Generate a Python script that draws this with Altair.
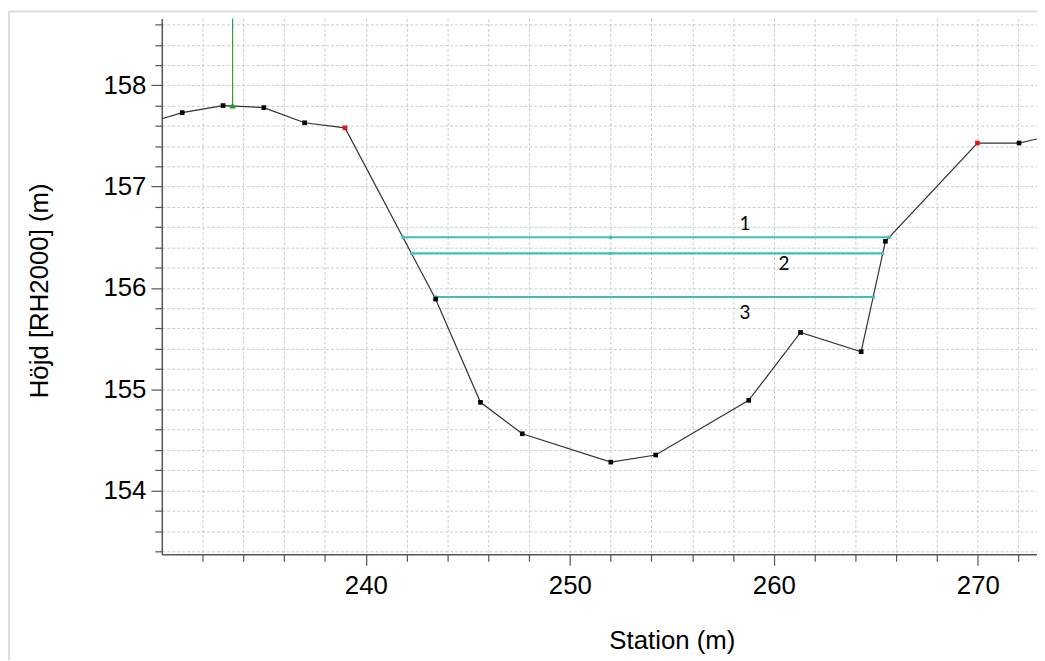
import altair as alt
import pandas as pd

# Terrain profile (station m, elevation m)
stations = [230.0, 231.0, 233.0, 235.0, 237.0, 238.98, 243.42, 245.62, 247.67, 252.01,
            254.21, 258.77, 261.31, 264.28, 265.47, 269.98, 272.02, 272.9]
elevations = [157.67, 157.73, 157.80, 157.78, 157.63, 157.58, 155.89, 154.87, 154.56, 154.28,
              154.35, 154.89, 155.56, 155.37, 156.46, 157.43, 157.43, 157.47]
marker_kind = ["none", "black", "black", "black", "black", "red", "black", "black", "black", "black",
               "black", "black", "black", "black", "black", "red", "black", "none"]

# Green marker
green_station = [233.47]
green_elev = [157.80]

# Water levels
level_names = ["1", "2", "3"]
level_elev = [156.50, 156.34, 155.91]
level_left = [241.82, 242.26, 243.42]
level_right = [265.66, 265.33, 264.88]
level_mid = [252.0, 252.0, None]
label_x = [258.59, 260.5, 258.59]
label_y = [156.63, 156.24, 155.75]

x_domain = [230.0, 272.9]
y_domain = [153.37, 158.66]
x_ticks = [float(v) for v in range(232, 273, 2)]
y_ticks = [round(153.4 + 0.2 * i, 1) for i in range(27)]

terrain = pd.DataFrame({"station": stations, "elev": elevations, "kind": marker_kind,
                        "order": list(range(len(stations)))})
pts = terrain[terrain["kind"] != "none"]

levels = pd.DataFrame({"name": level_names, "elev": level_elev,
                       "left": level_left, "right": level_right,
                       "lx": label_x, "ly": label_y})
lvl_pts = []
for n, e, l, r, m in zip(level_names, level_elev, level_left, level_right, level_mid):
    lvl_pts.append({"station": l, "elev": e})
    lvl_pts.append({"station": r, "elev": e})
    if m is not None:
        lvl_pts.append({"station": m, "elev": e})
lvl_pts = pd.DataFrame(lvl_pts)

green = pd.DataFrame({"station": green_station, "elev": green_elev, "top": [y_domain[1]]})

font = "Liberation Sans"
axis_col = "#555555"

xscale = alt.Scale(domain=x_domain, nice=False, zero=False)
yscale = alt.Scale(domain=y_domain, nice=False, zero=False)

x_axis = alt.Axis(
    values=x_ticks, title="Station (m)",
    labelExpr="datum.value % 10 == 0 ? datum.label : ''",
    tickSize={"condition": {"test": "datum.value % 10 == 0", "value": 11}, "value": 7},
    labelOverlap=False, labelFlush=False,
    labelFont=font, labelFontSize=26, labelColor="black", labelPadding=8,
    titleFont=font, titleFontSize=26, titleFontWeight="normal", titleColor="black",
    titleX=514, titleY=95, titleAlign="center", titleBaseline="alphabetic",
    grid=True, gridColor="#cccccc", gridDash=[3, 2], gridWidth=1,
    domainColor=axis_col, domainWidth=1.5, tickColor=axis_col, tickWidth=1.2,
)
y_axis = alt.Axis(
    values=y_ticks, title="Höjd [RH2000] (m)",
    labelExpr="abs(datum.value - round(datum.value)) < 0.01 ? format(datum.value, 'd') : ''",
    tickSize={"condition": {"test": "abs(datum.value - round(datum.value)) < 0.01", "value": 11},
              "value": 7},
    labelOverlap=False, labelFlush=False, labelBound=False,
    labelFont=font, labelFontSize=26, labelColor="black", labelPadding=5,
    titleFont=font, titleFontSize=26, titleFontWeight="normal", titleColor="black",
    titleX=-123, titleY=274, titleAngle=270, titleAlign="center", titleBaseline="middle",
    grid=True, gridColor="#cccccc", gridDash=[3, 2], gridWidth=1,
    domainColor=axis_col, domainWidth=1.5, tickColor=axis_col, tickWidth=1.2,
)


def X(field):
    return alt.X(field, type="quantitative", scale=xscale, axis=x_axis)


def Y(field):
    return alt.Y(field, type="quantitative", scale=yscale, axis=y_axis)


terrain_line = alt.Chart(terrain).mark_line(color="#333333", strokeWidth=1.2, clip=True).encode(
    x=X("station"), y=Y("elev"), order="order:Q")

teal = "#3fbfb7"
water = alt.Chart(levels).mark_rule(color=teal, strokeWidth=2.2).encode(
    x=X("left"), x2="right:Q", y=Y("elev"))
water_pts = alt.Chart(lvl_pts).mark_square(color=teal, size=10, opacity=1).encode(
    x=X("station"), y=Y("elev"))

markers = alt.Chart(pts).mark_square(size=22, opacity=1).encode(
    x=X("station"), y=Y("elev"),
    color=alt.Color("kind:N", scale=alt.Scale(domain=["black", "red"], range=["#000000", "#e8141a"]),
                    legend=None))

green_line = alt.Chart(green).mark_rule(color="#3a9a3a", strokeWidth=1.2).encode(
    x=X("station"), y=Y("top"), y2="elev:Q")
green_pt = alt.Chart(green).mark_point(shape="triangle-up", filled=True, color="#1f9a1f",
                                       size=45, opacity=1).encode(
    x=X("station"), y=Y("elev"))

labels = alt.Chart(levels).mark_text(font="Lato", fontSize=19, color="black").encode(
    x=X("lx"), y=Y("ly"), text="name:N")

# light image frame (left and top edges only)
frame_df = pd.DataFrame({"f": [0]})
frame_left = alt.Chart(frame_df).mark_rule(stroke="#dcdcdc", strokeWidth=2, clip=False).encode(
    x=alt.value(-154), y=alt.value(-7), y2=alt.value(700))
frame_top = alt.Chart(frame_df).mark_rule(stroke="#dcdcdc", strokeWidth=2, clip=False).encode(
    x=alt.value(-154), x2=alt.value(900), y=alt.value(-7))

chart = alt.layer(frame_left, frame_top, terrain_line, water, water_pts, markers,
                  green_line, green_pt, labels).properties(
    width=882, height=540,
    autosize=alt.AutoSizeParams(type="none"),
    padding={"left": 155, "top": 8, "right": 0, "bottom": 104},
    background="white",
).configure_view(stroke=None).configure_axis(labelOverlap=False)

chart.save("out.html", embed_options={"renderer": "svg", "actions": False})
